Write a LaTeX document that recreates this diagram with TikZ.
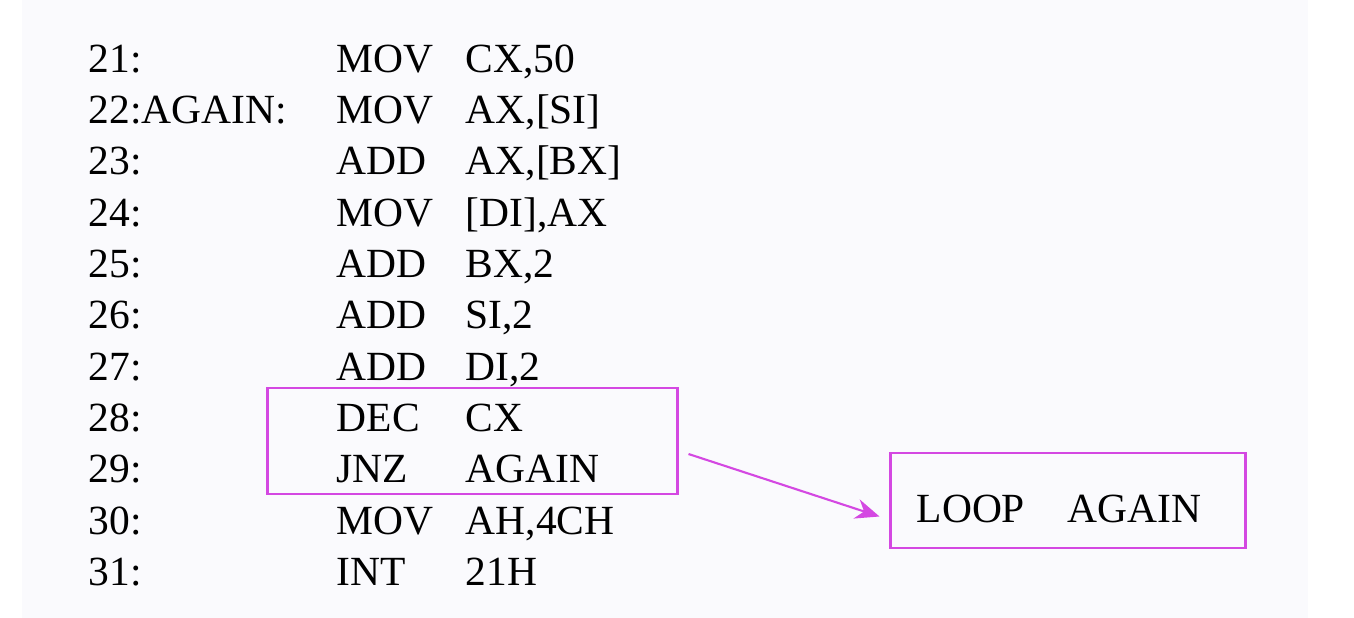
\documentclass[tikz,border=0pt]{standalone}
\usepackage{fontspec}
\setmainfont{Liberation Serif}
\usetikzlibrary{calc}
\usetikzlibrary{arrows.meta}
\definecolor{jmpcolor}{RGB}{212,72,226}
\definecolor{pagecolor}{RGB}{250,250,253}
\tikzstyle{asmtext}=[inner sep=0pt,anchor=base west,font=\fontsize{11.8}{14}\selectfont]
\tikzstyle{hibox}=[draw=jmpcolor,line width=0.8pt,inner sep=0pt]
\tikzstyle{jmparrow}=[jmpcolor,line width=0.6pt,-{Stealth[length=2.4mm,width=2mm]}]
\newcommand{\rowy}[1]{72+(#1-21)*51.35} % baseline of source line #1

\begin{document}
\begin{tikzpicture}[x=0.01cm,y=-0.01cm]
  \useasboundingbox (0,0) rectangle (1354,618);
  \fill[pagecolor] (22,0) rectangle (1308,618);
  % listing: line number / label, mnemonic, operands
  \foreach \n/\lab/\op/\arg in {21/{}/MOV/{CX,50},22/{AGAIN:}/MOV/{AX,[SI]},
      23/{}/ADD/{AX,[BX]},24/{}/MOV/{[DI],AX},25/{}/ADD/{BX,2},26/{}/ADD/{SI,2},
      27/{}/ADD/{DI,2},28/{}/DEC/{CX},29/{}/JNZ/{AGAIN},30/{}/MOV/{AH,4CH},31/{}/INT/{21H}} {
    \pgfmathsetmacro{\y}{\rowy{\n}}
    \node[asmtext] (l\n) at (88,\y) {\n:\lab};
    \node[asmtext] (m\n) at (336,\y) {\op};
    \node[asmtext] (o\n) at (465,\y) {\arg};
  }
  % the two lines that LOOP replaces
  \node[hibox,minimum width=4.09cm,minimum height=1.06cm] (blk) at (472.5,441) {};
  \node[hibox,minimum width=3.54cm,minimum height=0.95cm] (loopins) at (1068,500.5) {};
  \node[asmtext] (loopop) at (916,{\rowy{29}+40}) {LOOP};
  \node[asmtext] (looparg) at (1067,{\rowy{29}+40}) {AGAIN};
  \draw[jmparrow] ($(blk.east)+(10,13)$) -- ($(loopins.west)+(-10,16)$);
\end{tikzpicture}
\end{document}
